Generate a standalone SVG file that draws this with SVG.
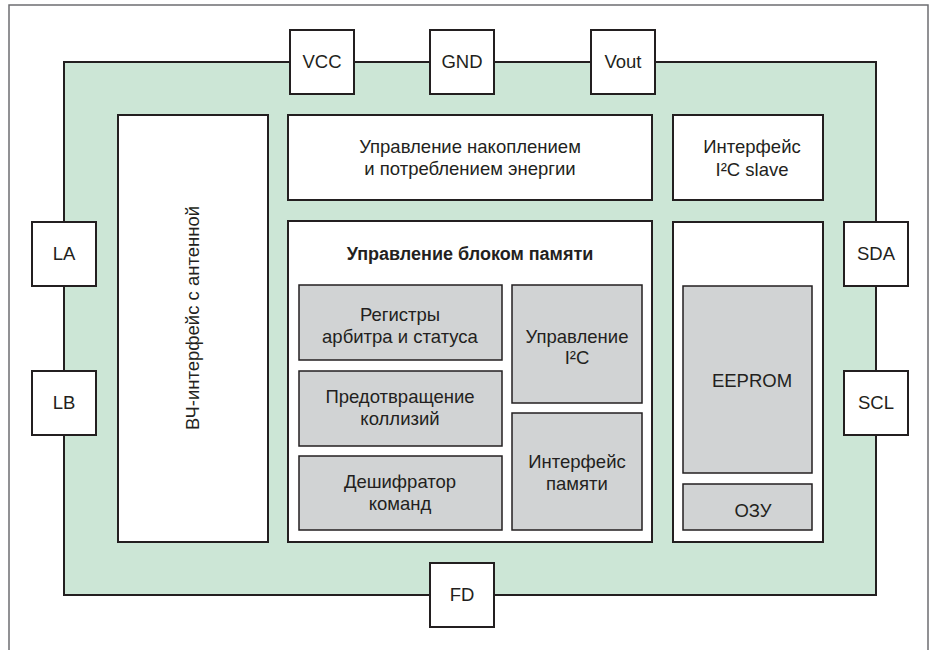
<svg xmlns="http://www.w3.org/2000/svg" width="936" height="650" viewBox="0 0 936 650">
<style>
.frame{fill:#ffffff;stroke:#6d6e71;stroke-width:1.5}
.chip{fill:#cce6d6;stroke:#231f20;stroke-width:2}
.blk{fill:#ffffff;stroke:#231f20;stroke-width:2}
.sub{fill:#d1d3d4;stroke:#231f20;stroke-width:1.5}
.pin{fill:#ffffff;stroke:#231f20;stroke-width:2}
text{font-family:"Liberation Sans",Arial,Helvetica,sans-serif;font-size:18.5px;fill:#231f20;text-anchor:middle}
.b{font-weight:bold;font-size:18px}
</style>
<rect width="936" height="650" fill="#ffffff"/>
<path class="frame" d="M9,660 V5 H928 V660"/>
<g id="chip"><rect class="chip" x="64" y="62" width="812" height="533"/></g>

<g id="rf"><rect class="blk" x="118" y="115" width="150" height="427"/>
<text transform="translate(199,318) rotate(-90)">ВЧ-интерфейс с антенной</text></g>

<g id="power"><rect class="blk" x="288" y="115" width="364" height="85"/>
<text x="470" y="153">Управление накоплением</text>
<text x="470" y="175">и потреблением энергии</text></g>

<g id="i2cslave"><rect class="blk" x="673" y="115" width="150" height="85"/>
<text x="752" y="153">Интерфейс</text>
<text x="752" y="176">I²C slave</text></g>

<g id="memctrl"><rect class="blk" x="288" y="221" width="364" height="321"/>
<text class="b" x="470" y="260">Управление блоком памяти</text></g>

<g id="regs"><rect class="sub" x="299" y="285" width="203" height="75"/>
<text x="400" y="321">Регистры</text>
<text x="400" y="343">арбитра и статуса</text></g>

<g id="collision"><rect class="sub" x="299" y="371" width="203" height="75"/>
<text x="400" y="403">Предотвращение</text>
<text x="400" y="425">коллизий</text></g>

<g id="decoder"><rect class="sub" x="299" y="456" width="203" height="74"/>
<text x="400" y="488">Дешифратор</text>
<text x="400" y="510">команд</text></g>

<g id="i2cctrl"><rect class="sub" x="512" y="285" width="130" height="118"/>
<text x="577" y="343">Управление</text>
<text x="577" y="364">I²C</text></g>

<g id="memif"><rect class="sub" x="512" y="413" width="130" height="117"/>
<text x="577" y="468">Интерфейс</text>
<text x="577" y="490">памяти</text></g>

<g id="memory"><rect class="blk" x="673" y="222" width="150" height="320"/></g>
<g id="eeprom"><rect class="sub" x="683" y="286" width="129" height="187"/>
<text x="752" y="387">EEPROM</text></g>
<g id="ram"><rect class="sub" x="683" y="484" width="129" height="46"/>
<text x="753" y="517">ОЗУ</text></g>

<g id="pin-vcc"><rect class="pin" x="290" y="30" width="64" height="64"/><text x="322" y="68">VCC</text></g>
<g id="pin-gnd"><rect class="pin" x="430" y="30" width="64" height="64"/><text x="462" y="68">GND</text></g>
<g id="pin-vout"><rect class="pin" x="591" y="30" width="64" height="64"/><text x="623" y="68">Vout</text></g>
<g id="pin-la"><rect class="pin" x="32" y="222" width="64" height="64"/><text x="64" y="260">LA</text></g>
<g id="pin-lb"><rect class="pin" x="32" y="371" width="64" height="64"/><text x="64" y="409">LB</text></g>
<g id="pin-sda"><rect class="pin" x="844" y="222" width="64" height="64"/><text x="876" y="260">SDA</text></g>
<g id="pin-scl"><rect class="pin" x="844" y="371" width="64" height="64"/><text x="876" y="409">SCL</text></g>
<g id="pin-fd"><rect class="pin" x="430" y="563" width="64" height="64"/><text x="462" y="601">FD</text></g>
</svg>
